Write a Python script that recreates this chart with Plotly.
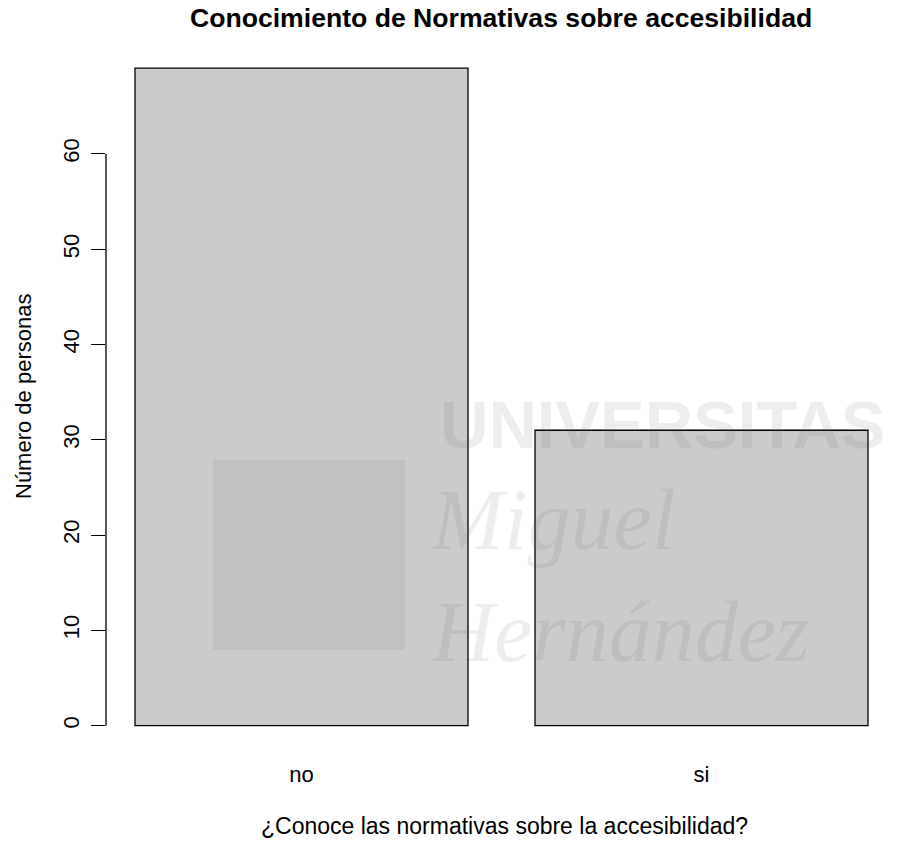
import plotly.graph_objects as go

categories = ["no", "si"]
counts = [69, 31]
y_ticks = [0, 10, 20, 30, 40, 50, 60]

title_text = "Conocimiento de Normativas sobre accesibilidad"
x_title = "¿Conoce las normativas sobre la accesibilidad?"
y_title = "Número de personas"

# page geometry (body margin removed by post_script)
W, H = 905, 841
PL, PR, PT, PB = 106, 896, 42, 752
L, R, T, B = PL, W - PR, PT, H - PB
pw, ph = PR - PL, PB - PT

def px(xp):
    return (xp - PL) / pw

def py(yp):
    return (PB - yp) / ph

FONT = "Liberation Sans, Arial, Helvetica"

fig = go.Figure()
fig.add_trace(go.Bar(
    x=categories, y=counts,
    marker=dict(color="#cbcbcb", line=dict(color="black", width=1.3)),
    hoverinfo="skip",
))

ann = []
ann.append(dict(text="<b>" + title_text + "</b>", x=px(501), y=py(18), xref="paper", yref="paper",
                showarrow=False, xanchor="center", yanchor="middle",
                font=dict(family=FONT, size=26.6, color="black")))
ann.append(dict(text=x_title, x=px(504), y=py(826), xref="paper", yref="paper",
                showarrow=False, xanchor="center", yanchor="middle",
                font=dict(family=FONT, size=23, color="black")))
ann.append(dict(text=y_title, x=px(23), y=py(397), xref="paper", yref="paper", textangle=-90,
                showarrow=False, xanchor="center", yanchor="middle",
                font=dict(family=FONT, size=22, color="black")))
# faint watermark
wm = "rgba(90,90,90,0.11)"
ann.append(dict(text="<b>UNIVERSITAS</b>", x=px(662), y=py(425), xref="paper", yref="paper",
                showarrow=False, xanchor="center", yanchor="middle",
                font=dict(family="Liberation Sans, Arial", size=67, color=wm)))
ann.append(dict(text="<i>Miguel</i><br><i>Hernández</i>", x=px(428), y=py(576), xref="paper", yref="paper",
                showarrow=False, xanchor="left", yanchor="middle", align="left",
                font=dict(family="Liberation Serif, DejaVu Serif", size=86, color=wm)))

fig.update_layout(
    width=W, height=H,
    margin=dict(l=L, r=R, t=T, b=B),
    paper_bgcolor="white", plot_bgcolor="white",
    showlegend=False,
    bargap=0.1675,
    annotations=ann,
    shapes=[
        dict(type="line", xref="paper", yref="y", x0=0, x1=0,
             y0=y_ticks[0], y1=y_ticks[-1], line=dict(color="black", width=1.3)),
        dict(type="rect", xref="paper", yref="paper", x0=px(213), x1=px(405),
             y0=py(650), y1=py(460), line=dict(width=0),
             fillcolor="rgba(0,0,0,0.05)", layer="above"),
    ],
    xaxis=dict(range=[-0.48875, 1.48625], showline=False, showgrid=False, zeroline=False,
               ticks="outside", ticklen=3, tickcolor="rgba(0,0,0,0)",
               tickfont=dict(family=FONT, size=22, color="black"),
               fixedrange=True),
    yaxis=dict(range=[-2.76, -2.76 + ph / 9.53], tickvals=y_ticks, ticktext=[str(v) for v in y_ticks],
               showline=False, showgrid=False, zeroline=False,
               ticks="outside", ticklen=14, tickwidth=1.3, tickcolor="black",
               tickangle=-90, ticklabelstandoff=3,
               tickfont=dict(family=FONT, size=22, color="black"),
               fixedrange=True),
)
fig.write_html("out.html", config={"displayModeBar": False},
               post_script="document.body.style.margin='0';")
